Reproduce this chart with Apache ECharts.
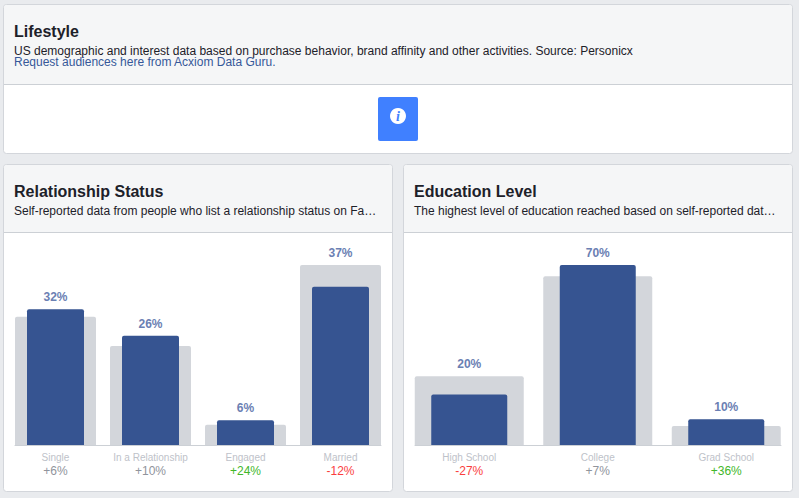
<!DOCTYPE html>
<html>
<head>
<meta charset="utf-8">
<style>html,body{margin:0;padding:0;background:#e9ebee;overflow:hidden}#c{width:799px;height:498px}</style>
<script src="https://cdn.jsdelivr.net/npm/echarts@6/dist/echarts.min.js"></script>
</head>
<body>
<div id="c"></div>
<script>
var relationshipCategories = ['Single', 'In a Relationship', 'Engaged', 'Married'];
var relationshipValues = [31.7, 25.5, 5.8, 36.9];
var relationshipBenchmark = [29.9, 23.1, 4.7, 42];
var relationshipDeltas = ['+6%', '+10%', '+24%', '-12%'];

var educationCategories = ['High School', 'College', 'Grad School'];
var educationValues = [19.6, 70, 10];
var educationBenchmark = [26.7, 65.6, 7.4];
var educationDeltas = ['-27%', '+7%', '+36%'];

var FONT = 'Liberation Sans, Arial, sans-serif';
var chart = echarts.init(document.getElementById('c'), null, {renderer: 'svg'});

function card(x, y, w, h, headH) {
  return [
    {type: 'rect', z: -5, shape: {x: x + 0.5, y: y + 0.5, width: w - 1, height: h - 1, r: 3},
     style: {fill: '#fff', stroke: '#d3d6db', lineWidth: 1}},
    {type: 'rect', z: -4, shape: {x: x + 1, y: y + 1, width: w - 2, height: headH - 1, r: [3, 3, 0, 0]},
     style: {fill: '#f5f6f7'}},
    {type: 'rect', z: -3, shape: {x: x + 1, y: y + headH, width: w - 2, height: 1},
     style: {fill: '#ccd0d5'}}
  ];
}
function txt(x, y, text, size, weight, color) {
  return {type: 'text', z: -2, x: x, y: y, style: {text: text, fontFamily: FONT, fontSize: size, fontWeight: weight, fill: color, textVerticalAlign: 'middle'}};
}
var graphics = [].concat(
  card(3, 4, 790, 150, 80),
  card(3, 164, 390, 328, 68),
  card(403, 164, 390, 328, 68),
  [
    txt(14, 31, 'Lifestyle', 16, 'bold', '#1d2129'),
    txt(14, 50.5, 'US demographic and interest data based on purchase behavior, brand affinity and other activities. Source: Personicx', 12, 'normal', '#1d2129'),
    txt(14, 61.5, 'Request audiences here from Acxiom Data Guru.', 12, 'normal', '#365899'),
    txt(14, 191, 'Relationship Status', 16, 'bold', '#1d2129'),
    txt(14, 210.5, 'Self-reported data from people who list a relationship status on Fa\u2026', 12, 'normal', '#1d2129'),
    txt(414, 191, 'Education Level', 16, 'bold', '#1d2129'),
    txt(414, 210.5, 'The highest level of education reached based on self-reported dat\u2026', 12, 'normal', '#1d2129'),
    {type: 'rect', z: -2, shape: {x: 378, y: 97, width: 40, height: 44, r: 2}, style: {fill: '#4080ff'}},
    {type: 'circle', z: -1, shape: {cx: 398, cy: 116, r: 8}, style: {fill: '#fff'}},
    {type: 'text', z: 0, x: 398, y: 116.5, style: {text: 'i', fontFamily: 'Liberation Serif, serif', fontStyle: 'italic', fontWeight: 'bold', fontSize: 14, fill: '#4080ff', textAlign: 'center', textVerticalAlign: 'middle'}}
  ]
);

function deltaStyle(d) {
  var n = parseInt(d, 10);
  return n < 0 ? 'down' : (n > 10 ? 'up' : 'flat');
}
function xLabel(deltas, cats) {
  return function (value) {
    var i = cats.indexOf(value);
    return '{n|' + value + '}\n{' + deltaStyle(deltas[i]) + '|' + deltas[i] + '}';
  };
}
var rich = {
  n: {fontFamily: FONT, fontSize: 10, color: '#bec2c9', lineHeight: 14, align: 'center'},
  flat: {fontFamily: FONT, fontSize: 12, color: '#90949c', lineHeight: 14, align: 'center'},
  up: {fontFamily: FONT, fontSize: 12, color: '#42b72a', lineHeight: 14, align: 'center'},
  down: {fontFamily: FONT, fontSize: 12, color: '#fa3e3e', lineHeight: 14, align: 'center'}
};
function lab(show, v) {
  return {show: show, position: 'top', distance: 6, fontFamily: FONT, fontSize: 12, fontWeight: 'bold', color: '#6b80b3', formatter: Math.round(v) + '%'};
}
// Each panel has two category axes in one grid, so the wide grey and narrow blue bars share a centre.
function panelSeries(greyAxis, blueAxis, yIdx, vals, bench, blueW, greyW) {
  return [
    {type: 'bar', xAxisIndex: greyAxis, yAxisIndex: yIdx, barWidth: greyW, z: 2, silent: true,
     itemStyle: {color: '#d3d6db', borderRadius: [2, 2, 0, 0]},
     data: bench.map(function (b, i) { return {value: b, label: lab(b > vals[i], vals[i])}; })},
    {type: 'bar', xAxisIndex: blueAxis, yAxisIndex: yIdx, barWidth: blueW, z: 3, silent: true,
     itemStyle: {color: '#365491', borderRadius: [2, 2, 0, 0]},
     data: vals.map(function (v, i) { return {value: v, label: lab(v >= bench[i], v)}; })}
  ];
}
function hiddenLine(gridIndex) {
  return {type: 'value', gridIndex: gridIndex, min: 0, max: 1, axisLine: {show: true, onZero: false, lineStyle: {color: '#ccd0d5', width: 1}}, axisTick: {show: false}, axisLabel: {show: false}, splitLine: {show: false}};
}
var top_ = 265, h_ = 180;
chart.setOption({
  animation: false,
  backgroundColor: '#e9ebee',
  graphic: {elements: graphics},
  grid: [
    {left: 8, width: 380, top: top_, height: h_},
    {left: 405, width: 385.5, top: top_, height: h_},
    {left: 15, width: 366, top: top_, height: h_},
    {left: 415, width: 366, top: top_, height: h_}
  ],
  xAxis: [
    {type: 'category', gridIndex: 0, data: relationshipCategories, axisLine: {show: false}, axisTick: {show: false},
     axisLabel: {interval: 0, margin: 5, formatter: xLabel(relationshipDeltas, relationshipCategories), rich: rich}},
    {type: 'category', gridIndex: 1, data: educationCategories, axisLine: {show: false}, axisTick: {show: false},
     axisLabel: {interval: 0, margin: 5, formatter: xLabel(educationDeltas, educationCategories), rich: rich}},
    hiddenLine(2),
    hiddenLine(3),
    {type: 'category', gridIndex: 0, show: false, data: relationshipCategories},
    {type: 'category', gridIndex: 1, show: false, data: educationCategories}
  ],
  yAxis: [
    {type: 'value', gridIndex: 0, min: 0, max: 42, show: false},
    {type: 'value', gridIndex: 1, min: 0, max: 70, show: false},
    {type: 'value', gridIndex: 2, min: 0, max: 1, show: false},
    {type: 'value', gridIndex: 3, min: 0, max: 1, show: false}
  ],
  series: panelSeries(0, 4, 0, relationshipValues, relationshipBenchmark, 57, 81)
    .concat(panelSeries(1, 5, 1, educationValues, educationBenchmark, 76, 109))
});
</script>
</body>
</html>
